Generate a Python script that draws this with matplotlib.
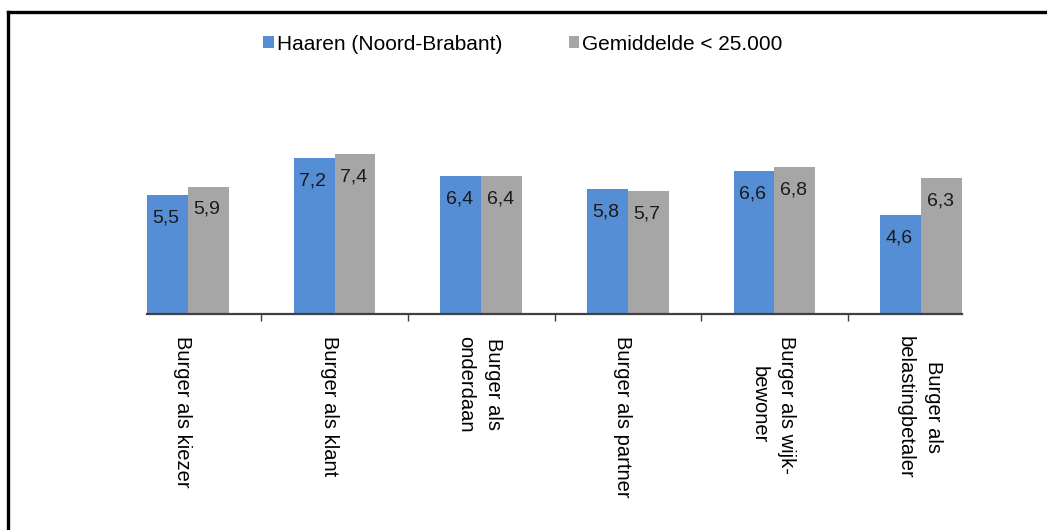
import matplotlib.pyplot as plt
from matplotlib.lines import Line2D
import numpy as np

categories = ["Burger als kiezer", "Burger als klant", "Burger als\nonderdaan",
              "Burger als partner", "Burger als wijk-\nbewoner", "Burger als\nbelastingbetaler"]
haaren = [5.5, 7.2, 6.4, 5.8, 6.6, 4.6]
gemiddelde = [5.9, 7.4, 6.4, 5.7, 6.8, 6.3]
series_names = ["Haaren (Noord-Brabant)", "Gemiddelde < 25.000"]

plt.rcParams['font.family'] = ['Liberation Sans', 'DejaVu Sans']

W, H = 1047, 530
fig = plt.figure(figsize=(W / 100, H / 100), dpi=100)
ax = fig.add_axes([147 / W, 216 / H, (962 - 147) / W, 216 / H])

x = np.arange(len(categories))
w = 0.279
b1 = ax.bar(x - w / 2, haaren, w, color="#558ed5", label=series_names[0])
b2 = ax.bar(x + w / 2, gemiddelde, w, color="#a6a6a6", label=series_names[1])

for bars, vals in ((b1, haaren), (b2, gemiddelde)):
    for rect, v in zip(bars, vals):
        ax.annotate(f"{v:.1f}".replace(".", ","),
                    (rect.get_x() + rect.get_width() / 2, v),
                    xytext=(-1, -16.5), textcoords="offset points",
                    ha="center", va="center", fontsize=14, color="#1a1a1a")

ax.set_xlim(-w, len(categories) - 1 + w)
ax.set_ylim(0, 10)
for s in ("top", "right", "left"):
    ax.spines[s].set_visible(False)
ax.spines["bottom"].set_color("#404040")
ax.spines["bottom"].set_linewidth(1.6)
ax.set_yticks([])
ax.set_xticks(x)
ax.set_xticklabels([])
ax.tick_params(axis="x", which="major", length=0)
ax.set_xticks(x[:-1] + 0.5, minor=True)
ax.tick_params(axis="x", which="minor", length=5, width=1, color="#404040")

for xi, lab in zip(x, categories):
    dx = -0.035 if "\n" not in lab else -0.01
    ax.text(xi + dx, -1.0, lab, rotation=270, ha="center", va="top",
            multialignment="center", fontsize=14.5, color="black",
            transform=ax.transData, clip_on=False, linespacing=1.6)

fig.legend(loc="center", bbox_to_anchor=(523 / W, 1 - 44 / H), ncol=2,
           frameon=False, fontsize=15, handlelength=0.5, handleheight=0.5,
           handletextpad=0.15, columnspacing=3.2)

# frame lines (left and top)
fig.add_artist(Line2D([8 / W, 8 / W], [0, 1 - 12 / H], color="black", lw=2.4,
                      transform=fig.transFigure, solid_capstyle="projecting"))
fig.add_artist(Line2D([8 / W, 1], [1 - 12 / H, 1 - 12 / H], color="black", lw=2.4,
                      transform=fig.transFigure, solid_capstyle="projecting"))

fig.savefig("out.png", dpi=100)
